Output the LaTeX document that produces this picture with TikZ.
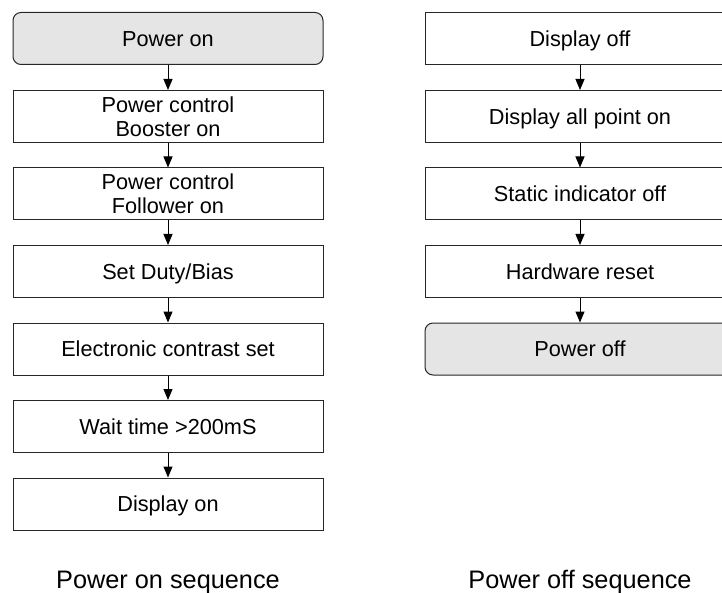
\documentclass[tikz,border=0pt]{standalone}
\usepackage{fontspec}
\setmainfont{Liberation Sans}
\usetikzlibrary{arrows.meta}
\begin{document}
\begin{tikzpicture}[x=1pt,y=-1pt,
  stepbox/.style={draw=black!85, line width=1pt, minimum width=310pt, minimum height=52pt, inner sep=0pt, font=\fontsize{21.7}{24}\selectfont, align=center},
  onebox/.style={stepbox, text height=15.5pt, text depth=0pt},
  termbox/.style={onebox, rounded corners=8pt, fill=gray!20},
  flow/.style={-{Triangle[length=11pt,width=9pt]}, line width=1pt, draw=black},
  caption/.style={font=\fontsize{25.3}{30}\selectfont, anchor=base}]
\useasboundingbox (0,0) rectangle (722,593);
\clip (0,0) rectangle (722,593);
% left column
\node[termbox] (l1) at (168,38.5) {Power on};
\node[stepbox] (l2) at (168,116.5) {Power control\\Booster on};
\node[stepbox] (l3) at (168,194) {Power control\\Follower on};
\node[onebox] (l4) at (168,271.5) {Set Duty/Bias};
\node[onebox] (l5) at (168,349) {Electronic contrast set};
\node[onebox] (l6) at (168,426.5) {Wait time >200mS};
\node[onebox] (l7) at (168,504) {Display on};
% right column
\node[onebox] (r1) at (580,38.5) {Display off};
\node[onebox] (r2) at (580,116.5) {Display all point on};
\node[onebox] (r3) at (580,194) {Static indicator off};
\node[onebox] (r4) at (580,271.5) {Hardware reset};
\node[termbox] (r5) at (580,349) {Power off};
% arrows
\foreach \a/\b in {l1/l2,l2/l3,l3/l4,l4/l5,l5/l6,l6/l7,r1/r2,r2/r3,r3/r4,r4/r5}
  \draw[flow] (\a.south) -- (\b.north);
% captions
\node[caption] (c1) at (168,588) {Power on sequence};
\node[caption] (c2) at (580,588) {Power off sequence};
\end{tikzpicture}
\end{document}
